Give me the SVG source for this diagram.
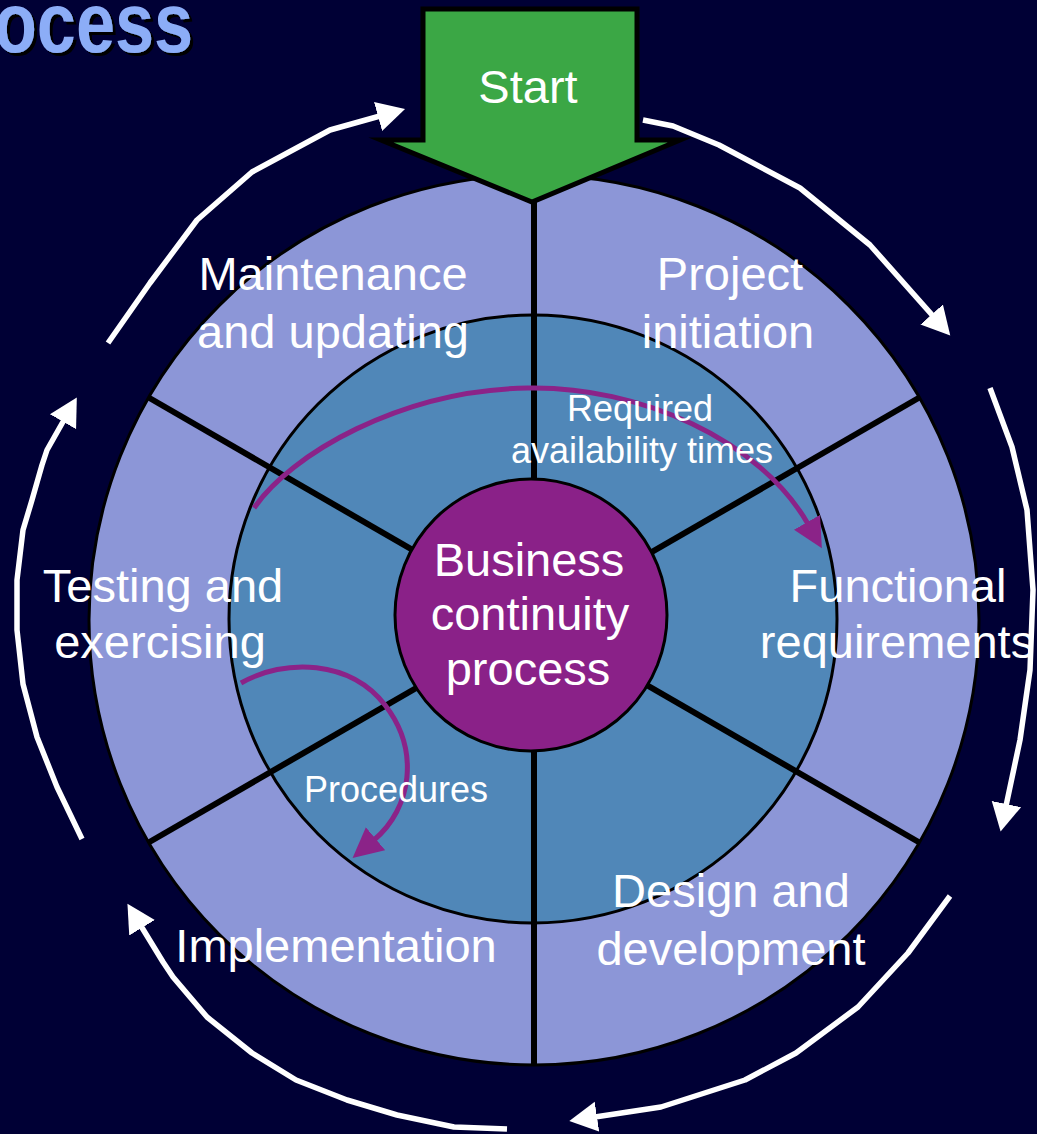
<svg xmlns="http://www.w3.org/2000/svg" width="1037" height="1134" viewBox="0 0 1037 1134">
  <defs>
    <style>
      .lbl { font-family: "Liberation Sans", Arial, sans-serif; fill: #ffffff; text-anchor: middle; }
      .big { font-size: 47px; }
      .small { font-size: 36px; }
      .ring { stroke: #000000; stroke-width: 3; }
      .spoke { stroke: #000000; stroke-width: 6; fill: none; }
      .cycle { fill: none; stroke: #ffffff; stroke-width: 5.5; stroke-linejoin: round; marker-end: url(#wh); }
      .flow { fill: none; stroke: #8B2388; stroke-width: 5; stroke-linejoin: round; marker-end: url(#pu); }
      .title { font-family: "Liberation Sans", Arial, sans-serif; font-weight: bold; font-size: 86px; fill: #8CADF7; }
    </style>
    <filter id="shadow" x="-10%" y="-20%" width="130%" height="150%">
      <feOffset in="SourceAlpha" dx="3" dy="3" result="off"/>
      <feMerge>
        <feMergeNode in="off"/>
        <feMergeNode in="SourceGraphic"/>
      </feMerge>
    </filter>
    <marker id="wh" markerUnits="userSpaceOnUse" markerWidth="32" markerHeight="32" viewBox="0 -16 32 32" refX="2" refY="0" orient="auto">
      <path d="M0,-15 L28,0 L0,15 Z" fill="#ffffff"/>
    </marker>
    <marker id="pu" markerUnits="userSpaceOnUse" markerWidth="34" markerHeight="32" viewBox="0 -16 34 32" refX="2" refY="0" orient="auto">
      <path d="M0,-15 L30,0 L0,15 Z" fill="#8B2388"/>
    </marker>
  </defs>

  <rect x="0" y="0" width="1037" height="1134" fill="#000035"/>

  <!-- title fragment -->
  <g id="title" filter="url(#shadow)">
    <text class="title" x="-6" y="52" textLength="199" lengthAdjust="spacingAndGlyphs">ocess</text>
  </g>

  <!-- wheel -->
  <g id="wheel">
    <circle cx="534" cy="620" r="445" fill="#8C96D7" class="ring"/>
    <circle cx="533" cy="619" r="304" fill="#5087B8" class="ring"/>
    <line class="spoke" x1="534" y1="620" x2="534" y2="175"/>
    <line class="spoke" x1="534" y1="620" x2="919.4" y2="397.5"/>
    <line class="spoke" x1="534" y1="620" x2="919.4" y2="842.5"/>
    <line class="spoke" x1="534" y1="620" x2="534" y2="1065"/>
    <line class="spoke" x1="534" y1="620" x2="148.6" y2="842.5"/>
    <line class="spoke" x1="534" y1="620" x2="148.6" y2="397.5"/>
  </g>

  <g id="node-core">
    <circle cx="531" cy="615" r="136" fill="#8A2188" class="ring"/>
    <text class="lbl big" x="529" y="576">Business</text>
    <text class="lbl big" x="530" y="630">continuity</text>
    <text class="lbl big" x="528" y="685">process</text>
  </g>

  <!-- connectors -->
  <g id="connectors">
    <path class="flow" d="M254,508 C290,455 400,390 528,388 C640,386 760,440 808,524"/>
    <path class="flow" d="M241,683 C285,658 350,660 385,705 C420,750 412,808 374,840"/>

    <path class="cycle" d="M108,343 L150,283 L197,220 L252,172 L330,130 L380,116"/>
    <path class="cycle" d="M643,120 L673,126 L719,145 L800,188 L870,245 L933,316"/>
    <path class="cycle" d="M990,388 L1012,447 L1027,510 L1033,590 L1030,670 L1020,740 L1006,806"/>
    <path class="cycle" d="M950,896 L908,953 L858,1007 L796,1053 L745,1080 L661,1107 L595,1117"/>
    <path class="cycle" d="M507,1129 L454,1127 L397,1115 L347,1100 L296,1080 L252,1053 L207,1017 L173,977 L163,962 L141,926"/>
    <path class="cycle" d="M82,839 L57,787 L37,737 L23,684 L17,630 L17,580 L23,530 L32,500 L42,465 L47,450 L64,420"/>
  </g>

  <g id="edge-label-availability">
    <text class="lbl small" x="640" y="421">Required</text>
    <text class="lbl small" x="642" y="463">availability times</text>
  </g>
  <g id="edge-label-procedures">
    <text class="lbl small" x="396" y="802">Procedures</text>
  </g>

  <g id="node-maintenance">
    <text class="lbl big" x="333" y="290">Maintenance</text>
    <text class="lbl big" x="333" y="348">and updating</text>
  </g>
  <g id="node-project">
    <text class="lbl big" x="730" y="290">Project</text>
    <text class="lbl big" x="728" y="348">initiation</text>
  </g>
  <g id="node-functional">
    <text class="lbl big" x="898" y="602">Functional</text>
    <text class="lbl big" x="897" y="658">requirements</text>
  </g>
  <g id="node-design">
    <text class="lbl big" x="731" y="907">Design and</text>
    <text class="lbl big" x="731" y="965">development</text>
  </g>
  <g id="node-implementation">
    <text class="lbl big" x="336" y="962">Implementation</text>
  </g>
  <g id="node-testing">
    <text class="lbl big" x="163" y="602">Testing and</text>
    <text class="lbl big" x="160" y="658">exercising</text>
  </g>

  <g id="node-start">
    <path d="M423,9 L637,9 L637,140 L680,140 L532,202 L381,140 L423,140 Z" fill="#3BA745" stroke="#000000" stroke-width="5" stroke-linejoin="miter" stroke-miterlimit="20"/>
    <text class="lbl" x="528" y="103" font-size="47">Start</text>
  </g>
</svg>
